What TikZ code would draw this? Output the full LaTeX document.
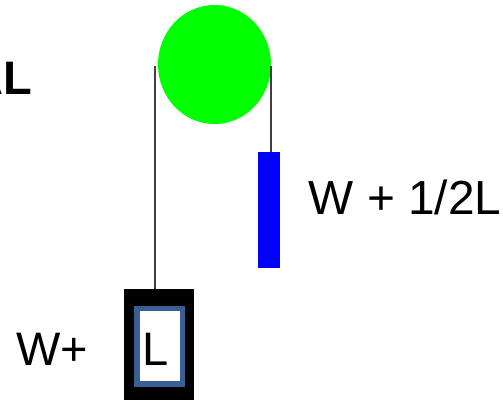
\documentclass[tikz,border=0pt]{standalone}
\usepackage{fontspec}
\setmainfont{Liberation Sans}
\usetikzlibrary{shapes.geometric}
\definecolor{frameblue}{RGB}{56,96,146}
\tikzset{
  px/.style={x=1pt,y=-1pt},
  rope/.style={draw=black!75,line width=2pt},
  lab/.style={inner sep=0pt,font=\fontsize{47}{47}\selectfont,text=black,anchor=base west},
  boxn/.style={inner sep=0pt,outer sep=0pt,anchor=north west}
}
\begin{document}
\begin{tikzpicture}[px]
\useasboundingbox (0,0) rectangle (503,400);
\clip (0,0) rectangle (503,400);
\node[ellipse,fill=green,inner sep=0pt,minimum width=113pt,minimum height=119pt] (pulley) at (214.5,64.5) {};
\coordinate (lt) at (155,66);
\coordinate (rt) at (271,66);
\node[boxn,fill=blue,minimum width=22pt,minimum height=116pt] (wt) at (258,152) {};
\node[boxn,fill=black,minimum width=70pt,minimum height=111pt] (box) at (124,289) {};
\node[boxn,draw=frameblue,line width=5.5pt,fill=white,minimum width=45.5pt,minimum height=75.5pt] (inner) at (137.2,308.7) {};
\draw[rope] (lt) -- (lt |- box.north);
\draw[rope] (rt) -- (rt |- wt.north);
\node[lab] (l) at (142.5,365) {L};
\node[lab] (wp) at (16,365) {W+};
\node[lab,font=\fontsize{47.8}{48}\selectfont] (wl) at (308.5,214) {W + 1/2L};
\node[inner sep=0pt,font=\fontsize{47}{47}\selectfont\bfseries,anchor=base east] (al) at (32,94) {AL};
\end{tikzpicture}
\end{document}
